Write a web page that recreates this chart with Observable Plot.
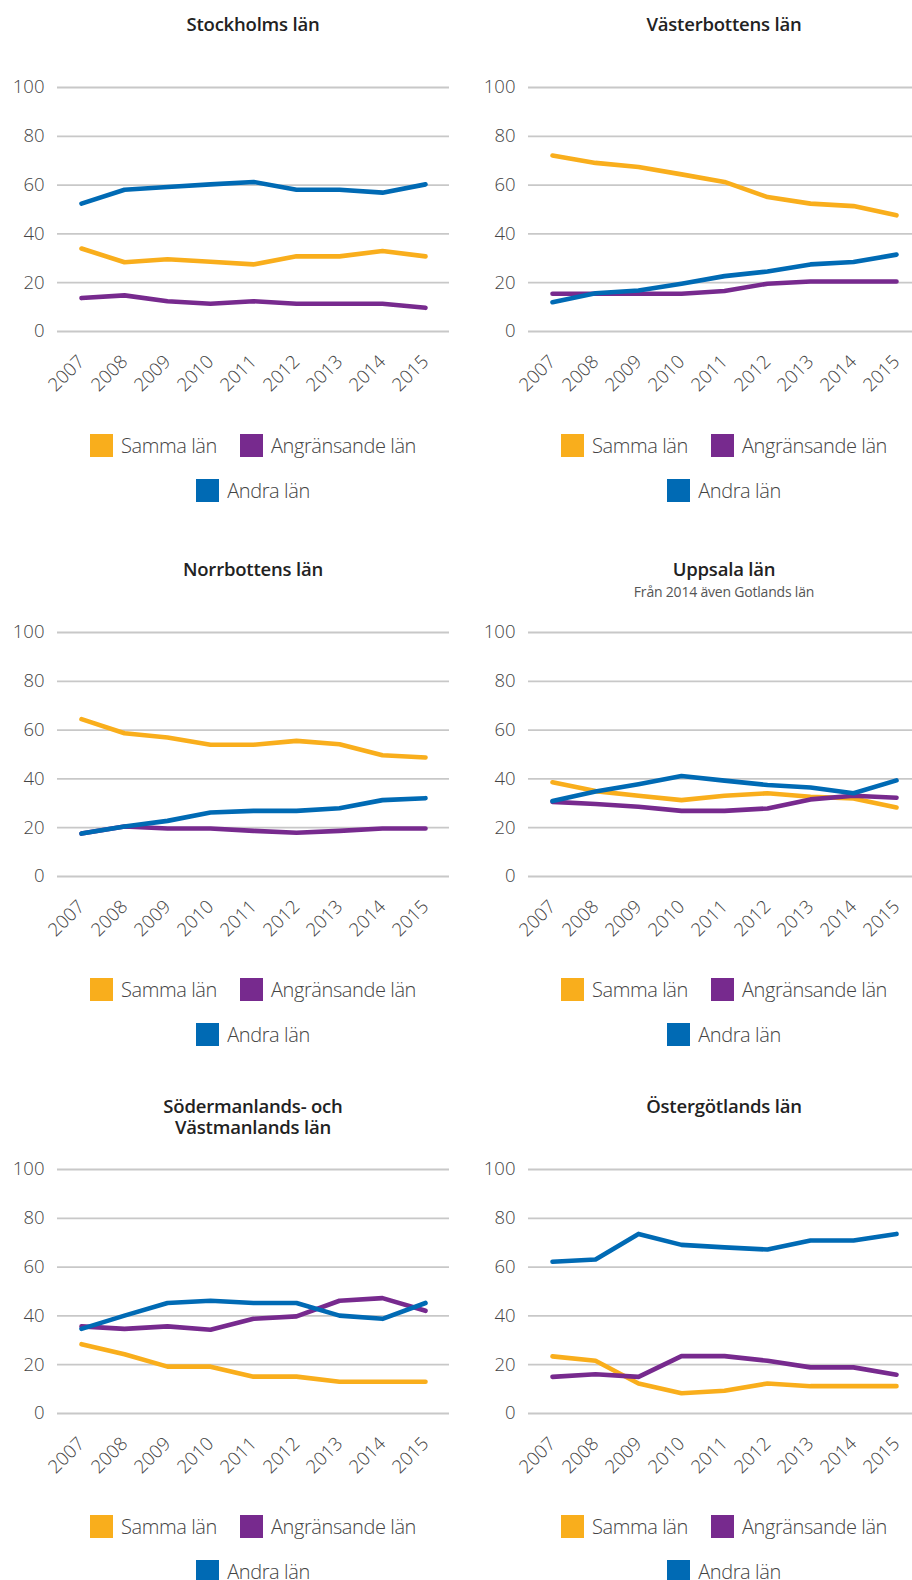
<!DOCTYPE html>
<html>
<head>
<meta charset="utf-8">
<script src="https://cdn.jsdelivr.net/npm/d3@7"></script>
<script src="https://cdn.jsdelivr.net/npm/@observablehq/plot@0.6"></script>
<style>
  html, body { margin: 0; padding: 0; background: #fff; }
  #root { position: relative; width: 912px; height: 1580px; overflow: hidden; font-family: "Open Sans", Lato, sans-serif; }
  .panel { position: absolute; width: 456px; }
  .title { position: absolute; left: 37px; width: 432px; text-align: center; font-weight: 600; font-size: 18.5px; line-height: 21.5px; color: #222; letter-spacing: -0.2px; }
  .subtitle { position: absolute; left: 37px; width: 432px; text-align: center; font-weight: 400; font-size: 14px; line-height: 15px; color: #555; letter-spacing: -0.2px; }
  .plot { position: absolute; left: 0; }
  .legend { position: absolute; left: 47px; width: 412px; display: flex; flex-wrap: wrap; justify-content: center; column-gap: 23px; row-gap: 22px; }
  .item { display: flex; align-items: center; height: 23px; font-size: 20px; font-weight: 300; color: #444; letter-spacing: -0.4px; }
  .swatch { width: 23px; height: 23px; margin-right: 8px; }
</style>
</head>
<body>
<div id="root"></div>
<script>
const years = [2007, 2008, 2009, 2010, 2011, 2012, 2013, 2014, 2015];
const seriesNames = ["Samma län", "Angränsande län", "Andra län"];
const seriesColors = ["#f9ae1c", "#772a8e", "#006ab4"];
const yTicks = [0, 20, 40, 60, 80, 100];

// Stockholms län
const stockholmSamma = [34, 28.4, 29.6, 28.6, 27.5, 30.8, 30.8, 33, 30.8];
const stockholmAngr  = [13.7, 14.8, 12.4, 11.4, 12.4, 11.4, 11.4, 11.4, 9.7];
const stockholmAndra = [52.4, 58.1, 59.2, 60.3, 61.3, 58.1, 58.1, 56.9, 60.3];
// Västerbottens län
const vasterbottenSamma = [72.1, 69.1, 67.4, 64.4, 61.3, 55.1, 52.4, 51.4, 47.6];
const vasterbottenAngr  = [15.5, 15.5, 15.5, 15.5, 16.6, 19.6, 20.5, 20.5, 20.5];
const vasterbottenAndra = [12, 15.7, 16.8, 19.6, 22.7, 24.6, 27.5, 28.5, 31.5];
// Norrbottens län
const norrbottenSamma = [64.5, 58.7, 57, 54, 54, 55.6, 54.2, 49.7, 48.8];
const norrbottenAngr  = [17.6, 20.5, 19.7, 19.7, 18.7, 17.9, 18.7, 19.7, 19.7];
const norrbottenAndra = [17.6, 20.5, 22.8, 26.2, 26.9, 26.9, 28, 31.3, 32.1];
// Uppsala län
const uppsalaSamma = [38.6, 35, 33.1, 31.3, 33.1, 34.1, 32.7, 32, 28.3];
const uppsalaAngr  = [30.6, 29.7, 28.6, 26.9, 26.9, 27.9, 31.6, 33.1, 32.3];
const uppsalaAndra = [30.9, 34.8, 37.8, 41.2, 39.3, 37.5, 36.5, 34.1, 39.4];
// Södermanlands- och Västmanlands län
const sodermanlandSamma = [28.4, 24.3, 19.2, 19.2, 15.1, 15.1, 13, 13, 13];
const sodermanlandAngr  = [35.7, 34.7, 35.7, 34.3, 38.8, 39.8, 46.2, 47.3, 42.1];
const sodermanlandAndra = [34.7, 40.1, 45.3, 46.2, 45.3, 45.3, 40.1, 38.8, 45.3];
// Östergötlands län
const ostergotlandSamma = [23.4, 21.6, 12.3, 8.3, 9.3, 12.3, 11.2, 11.2, 11.2];
const ostergotlandAngr  = [15, 16.1, 15, 23.5, 23.5, 21.6, 18.9, 18.9, 15.9];
const ostergotlandAndra = [62.2, 63.1, 73.6, 69.1, 68.1, 67.2, 70.9, 70.9, 73.6];

const panels = [
  {title: ["Stockholms län"], left: 0, y100: 87.3, values: [stockholmSamma, stockholmAngr, stockholmAndra]},
  {title: ["Västerbottens län"], left: 471, y100: 87.3, values: [vasterbottenSamma, vasterbottenAngr, vasterbottenAndra]},
  {title: ["Norrbottens län"], left: 0, y100: 631.7, values: [norrbottenSamma, norrbottenAngr, norrbottenAndra]},
  {title: ["Uppsala län"], subtitle: "Från 2014 även Gotlands län", left: 471, y100: 631.7, values: [uppsalaSamma, uppsalaAngr, uppsalaAndra]},
  {title: ["Södermanlands- och", "Västmanlands län"], left: 0, y100: 1168.7, values: [sodermanlandSamma, sodermanlandAngr, sodermanlandAndra]},
  {title: ["Östergötlands län"], left: 471, y100: 1168.7, values: [ostergotlandSamma, ostergotlandAngr, ostergotlandAndra]}
];

const root = document.getElementById("root");
const MT = 20, PH = 244, MB = 74;

for (const p of panels) {
  const div = document.createElement("div");
  div.className = "panel";
  div.style.left = p.left + "px";
  div.style.top = "0px";
  root.appendChild(div);

  const t = document.createElement("div");
  t.className = "title";
  t.style.top = (p.y100 - 74) + "px";
  t.innerHTML = p.title.join("<br>");
  div.appendChild(t);

  if (p.subtitle) {
    const s = document.createElement("div");
    s.className = "subtitle";
    s.style.top = (p.y100 - 48) + "px";
    s.textContent = p.subtitle;
    div.appendChild(s);
  }

  const rows = [];
  seriesNames.forEach((name, i) => {
    years.forEach((yr, j) => rows.push({year: yr, value: p.values[i][j], series: name}));
  });

  const chart = Plot.plot({
    width: 456,
    height: MT + PH + MB,
    marginTop: MT,
    marginBottom: MB,
    marginLeft: 57,
    marginRight: 7,
    style: {fontFamily: "'Open Sans', Lato, sans-serif", fontSize: "18.5px", fontWeight: 300, color: "#444", background: "transparent"},
    x: {type: "point", domain: years, padding: 0.5, label: null},
    y: {domain: [0, 100], label: null},
    color: {domain: seriesNames, range: seriesColors},
    marks: [
      Plot.ruleY(yTicks, {stroke: "#c8c8c8", strokeWidth: 1.8}),
      Plot.axisY(yTicks, {tickSize: 0, tickPadding: 13, fill: "#444", label: null}),
      Plot.axisX(years, {tickSize: 0, tickPadding: 27, tickRotate: -45, tickFormat: d => String(d), fill: "#444", label: null}),
      Plot.line(rows, {x: "year", y: "value", z: "series", stroke: "series", strokeWidth: 4.6, strokeLinejoin: "round", strokeLinecap: "round"})
    ]
  });
  chart.classList.add("plot");
  chart.style.top = (p.y100 - MT) + "px";
  div.appendChild(chart);

  const lg = document.createElement("div");
  lg.className = "legend";
  lg.style.top = (p.y100 + 346.7) + "px";
  seriesNames.forEach((name, i) => {
    const it = document.createElement("div");
    it.className = "item";
    const sw = document.createElement("span");
    sw.className = "swatch";
    sw.style.background = seriesColors[i];
    it.appendChild(sw);
    it.appendChild(document.createTextNode(name));
    lg.appendChild(it);
  });
  div.appendChild(lg);
}
</script>
</body>
</html>
